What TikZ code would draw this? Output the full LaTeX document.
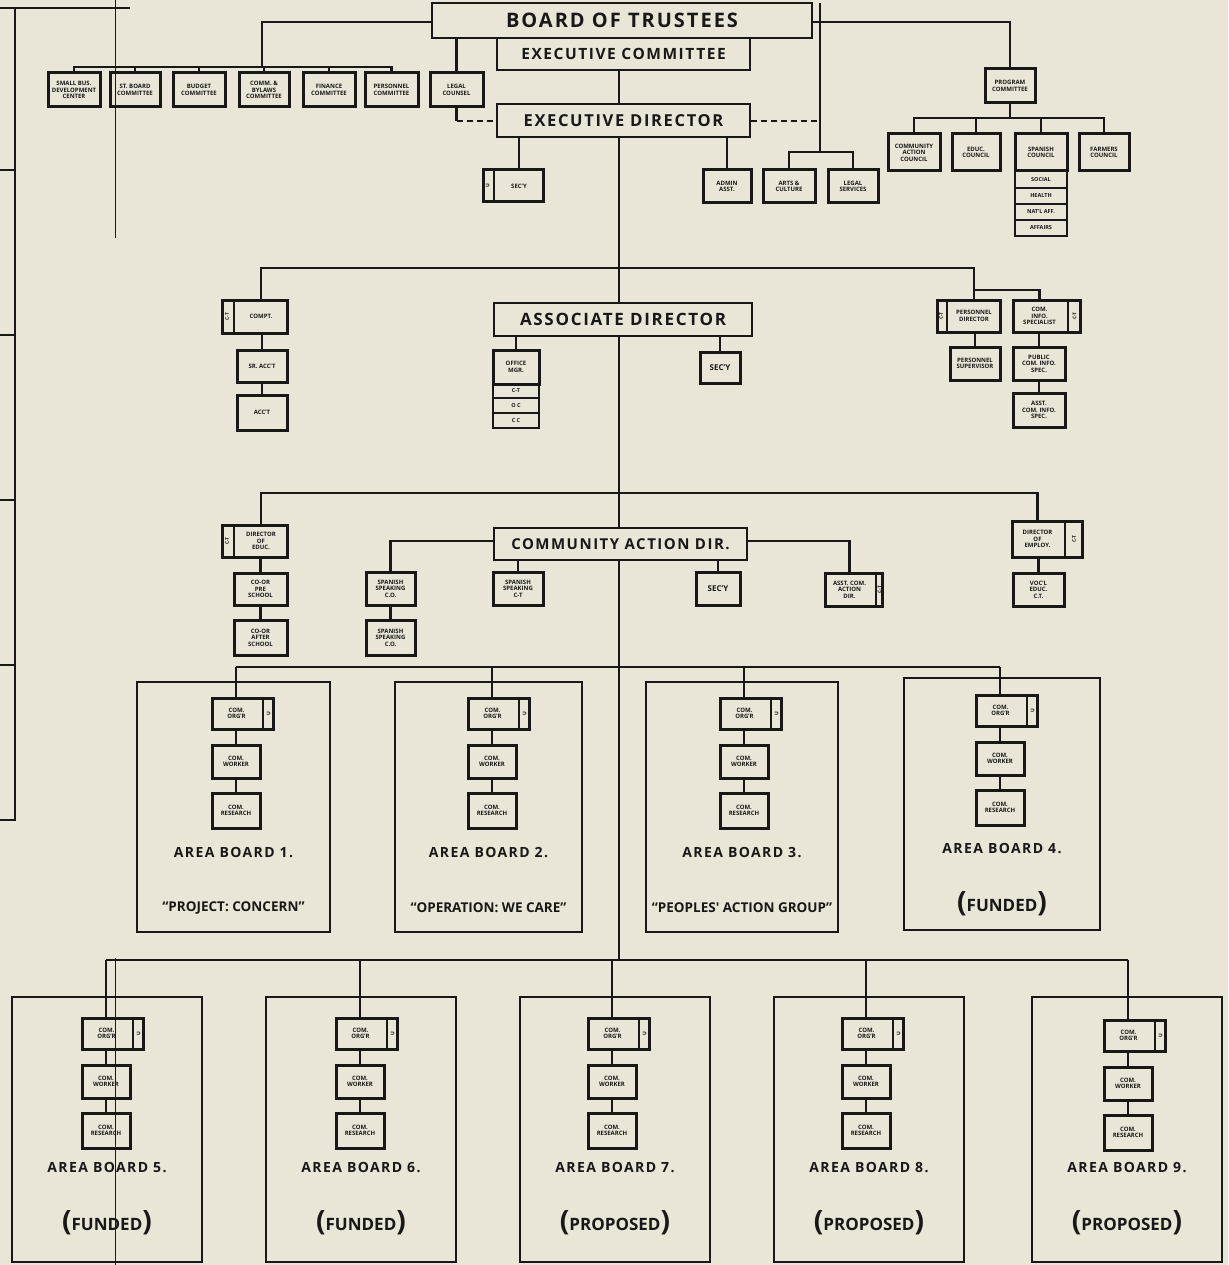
\documentclass[tikz,border=0pt]{standalone}
\usepackage{fontspec}
\setmainfont{Open Sans}
\newfontfamily\hand[LetterSpace=10]{Open Sans}
\newfontfamily\handn{Open Sans}
\usetikzlibrary{calc}
\definecolor{paper}{RGB}{233,230,215}
\definecolor{ink}{RGB}{26,24,22}
\newcommand\obox[7][]{\node[box,minimum width={((#5)-(#3))*1pt},minimum height={((#6)-(#4))*1pt},#1] (#2) at ({((#3)+(#5))/2},{((#4)+(#6))/2}) {#7};}
\newcommand\lsbox[9][]{\obox[#1]{#2}{#3}{#4}{#5}{#6}{}
  \draw[strip] ([xshift=#7pt]#2.north west) -- ([xshift=#7pt]#2.south west);
  \node[stxt] at ($(#2.west)+(#7/2,0)$) {#8};
  \node[btxt] at ($(#2.center)+(#7/2,0)$) {#9};}
\newcommand\rsbox[9][]{\obox[#1]{#2}{#3}{#4}{#5}{#6}{}
  \draw[strip] ([xshift=-#7pt]#2.north east) -- ([xshift=-#7pt]#2.south east);
  \node[stxt] at ($(#2.east)+(-#7/2,0)$) {#8};
  \node[btxt] at ($(#2.center)+(-#7/2,0)$) {#9};}
\newcommand\pw[1]{{\fontsize{28}{28}\selectfont(}{\fontsize{17}{20}\selectfont #1}{\fontsize{28}{28}\selectfont)}}
\newcommand\areab[9]{%
 \node[area,minimum width={((#3)-(#2))*1pt},minimum height={((#5)-(#4))*1pt}] (ab#1) at ({((#2)+(#3))/2},{((#4)+(#5))/2}) {};
 \coordinate (v#1) at (#6,#4);
 \rsbox{org#1}{(#6)-24}{#7}{(#6)+37}{(#7)+31}{12}{U}{COM.\\ORG'R}
 \obox{wk#1}{(#6)-24}{(#7)+47}{(#6)+24}{(#7)+80}{COM.\\WORKER}
 \obox{rs#1}{(#6)-24}{(#7)+95}{(#6)+24}{(#7)+130}{COM.\\RESEARCH}
 \draw[ln] (org#1.south -| v#1) -- (wk#1.north -| v#1);
 \draw[ln] (wk#1.south -| v#1) -- (rs#1.north -| v#1);
 \node[ttl] (at#1) at ({((#2)+(#3))/2},{(#4)+171}) {#8};
 \node[sttl] (as#1) at ({((#2)+(#3))/2},{(#4)+226}) {#9};
}
\begin{document}
\begin{tikzpicture}[x=1pt,y=-1pt,
 box/.style={draw=ink,line width=3pt,inner sep=0.5pt,align=center,text=ink,font=\bfseries\fontsize{6}{6.6}\selectfont},
 big/.style={box,line width=2.6pt,font=\hand\bfseries\fontsize{17}{18}\selectfont},
 rowb/.style={box,line width=2.4pt,font=\bfseries\fontsize{5.5}{6}\selectfont},
 ln/.style={draw=ink,line width=2.8pt},
 dsh/.style={ln,dash pattern=on 6pt off 4pt},
 strip/.style={draw=ink,line width=2pt},
 stxt/.style={text=ink,font=\bfseries\fontsize{5}{5}\selectfont,rotate=90,inner sep=0},
 btxt/.style={text=ink,font=\bfseries\fontsize{6}{6.6}\selectfont,align=center,inner sep=0},
 area/.style={draw=ink,line width=2.4pt,inner sep=0},
 ttl/.style={text=ink,font=\hand\bfseries\fontsize{14}{15}\selectfont,inner sep=0},
 sttl/.style={text=ink,font=\handn\bfseries\fontsize{13.5}{15}\selectfont,inner sep=0},
 lframe/.style={draw=ink,line width=2.2pt},
 hair/.style={draw=ink,line width=0.8pt}]
\fill[paper] (0,0) rectangle (1228,1265);
\useasboundingbox (0,0) rectangle (1228,1265);

% left frame and scan lines
\draw[lframe] (0,8) -- (130,8);
\draw[lframe] (15,8) -- (15,820) -- (0,820);
\foreach \yy in {170,335,500,665} \draw[lframe] (0,\yy) -- (15,\yy);
\draw[hair] (115,0) -- (115,238);
\draw[hair] (115,958) -- (115,1265);

% top
\obox[big,font=\hand\bfseries\fontsize{20}{22}\selectfont]{bot}{432}{3}{812}{38}{BOARD OF TRUSTEES}
\obox[big,font=\hand\bfseries\fontsize{15.5}{17}\selectfont]{exc}{497}{38}{750}{70}{EXECUTIVE COMMITTEE}
\obox[big,font=\hand\bfseries\fontsize{16.5}{18}\selectfont]{ed}{497}{104}{750}{137}{EXECUTIVE DIRECTOR}

\obox{c1}{48}{73}{100}{107}{SMALL BUS.\\DEVELOPMENT\\CENTER}
\obox{c2}{110}{73}{160}{107}{ST. BOARD\\COMMITTEE}
\obox{c3}{173}{73}{225}{107}{BUDGET\\COMMITTEE}
\obox{c4}{239}{73}{289}{107}{COMM. \&\\BYLAWS\\COMMITTEE}
\obox{c5}{303}{73}{355}{107}{FINANCE\\COMMITTEE}
\obox{c6}{365}{73}{418}{107}{PERSONNEL\\COMMITTEE}
\obox{lc}{430}{73}{483}{107}{LEGAL\\COUNSEL}

\lsbox{s1}{483}{170}{543}{202}{12}{U}{SEC'Y}
\obox{aa}{703}{170}{751}{203}{ADMIN\\ASST.}
\obox{ac}{763}{170}{815}{203}{ARTS \&\\CULTURE}
\obox{ls}{828}{170}{878}{203}{LEGAL\\SERVICES}

\obox{pc}{985}{69}{1035}{103}{PROGRAM\\COMMITTEE}
\obox{p1}{888}{134}{940}{171}{COMMUNITY\\ACTION\\COUNCIL}
\obox{p2}{952}{134}{1000}{171}{EDUC.\\COUNCIL}
\obox{p3}{1015}{134}{1067}{171}{SPANISH\\COUNCIL}
\obox[rowb]{p3a}{1015}{171}{1067}{188}{SOCIAL}
\obox[rowb]{p3b}{1015}{188}{1067}{204}{HEALTH}
\obox[rowb]{p3c}{1015}{204}{1067}{220}{NAT'L AFF.}
\obox[rowb]{p3d}{1015}{220}{1067}{236}{AFFAIRS}
\obox{p4}{1079}{134}{1129}{171}{FARMERS\\COUNCIL}

% top connectors
\coordinate (tk) at (619,0);
\coordinate (jl) at (262,22);
\coordinate (jr) at (1010,22);
\coordinate (bA) at (262,67);
\draw[ln] (bot.west |- jl) -- (jl) -- (bA);
\draw[ln] (c1.north) -- (c1.north |- bA) -- (c6.north |- bA) -- (c6.north);
\foreach \n in {c2,c3,c4,c5} \draw[ln] (\n.north) -- (\n.north |- bA);
\draw[ln] (lc.north) -- (lc.north |- bot.south);
\coordinate (dl) at (456,121);
\draw[ln] (lc.south) -- (lc.south |- dl);
\draw[dsh] (lc.south |- dl) -- (ed.west |- dl);
\coordinate (vr) at (820,3);
\coordinate (br) at (820,152);
\draw[dsh] (ed.east |- dl) -- (vr |- dl);
\draw[ln] (vr) -- (br);
\draw[ln] (ac.north) -- (ac.north |- br) -- (ls.north |- br) -- (ls.north);
\draw[ln] (bot.east |- jr) -- (jr) -- (pc.north);
\draw[ln] (tk |- exc.south) -- (tk |- ed.north);
\coordinate (bP) at (1010,118);
\draw[ln] (pc.south) -- (bP);
\draw[ln] (p1.north) -- (p1.north |- bP) -- (p4.north |- bP) -- (p4.north);
\foreach \n in {p2,p3} \draw[ln] (\n.north) -- (\n.north |- bP);
\draw[ln] ([xshift=6pt]s1.north) -- ([xshift=6pt]s1.north |- ed.south);
\draw[ln] (aa.north) -- (aa.north |- ed.south);

% associate director level
\lsbox{cp}{222}{300}{287}{333}{13}{C-T}{COMPT.}
\obox{sa}{237}{350}{287}{382}{SR. ACC'T}
\obox{act}{237}{395}{287}{430}{ACC'T}
\obox[big]{ad}{494}{303}{752}{336}{ASSOCIATE DIRECTOR}
\obox{om}{493}{350}{539}{384}{OFFICE\\MGR.}
\obox[rowb]{om1}{493}{384}{539}{398}{C-T}
\obox[rowb]{om2}{493}{398}{539}{413}{O C}
\obox[rowb]{om3}{493}{413}{539}{428}{C C}
\obox[font=\bfseries\fontsize{8}{9}\selectfont]{sc2}{700}{352}{740}{383}{SEC'Y}
\lsbox{pd}{937}{300}{1000}{332}{11}{C-T}{PERSONNEL\\DIRECTOR}
\obox{ps}{950}{347}{1000}{380}{PERSONNEL\\SUPERVISOR}
\rsbox{ci}{1013}{300}{1080}{332}{14}{C-T}{COM.\\INFO.\\SPECIALIST}
\obox{pci}{1013}{347}{1065}{380}{PUBLIC\\COM. INFO.\\SPEC.}
\obox{aci}{1013}{393}{1065}{427}{ASST.\\COM. INFO.\\SPEC.}

\draw[ln] (tk |- ed.south) -- (tk |- ad.north);
\coordinate (b2) at (619,268);
\draw[ln] ([xshift=6.5pt]cp.north) |- (b2) -| ([xshift=5.5pt]pd.north);
\coordinate (b3) at (975,290);
\draw[ln] (b3) -| ([xshift=-7pt]ci.north);
\draw[ln] (ps.north) -- (ps.north |- pd.south);
\draw[ln] (pci.north) -- (pci.north |- ci.south);
\draw[ln] (aci.north) -- (pci.south);
\draw[ln] (sa.north) -- (sa.north |- cp.south);
\draw[ln] (act.north) -- (sa.south);
\draw[ln] (om.north) -- (om.north |- ad.south);
\draw[ln] (sc2.north) -- (sc2.north |- ad.south);

% community action level
\lsbox{de}{222}{525}{287}{557}{13}{C-T}{DIRECTOR\\OF\\EDUC.}
\obox{pre}{234}{573}{287}{605}{CO-OR\\PRE\\SCHOOL}
\obox{aft}{234}{620}{287}{655}{CO-OR\\AFTER\\SCHOOL}
\obox[big,font=\hand\bfseries\fontsize{15}{16}\selectfont]{cad}{494}{528}{747}{560}{COMMUNITY ACTION DIR.}
\obox{ss1}{366}{572}{415}{605}{SPANISH\\SPEAKING\\C.O.}
\obox{ss2}{366}{620}{415}{655}{SPANISH\\SPEAKING\\C.O.}
\obox{ssct}{493}{572}{543}{605}{SPANISH\\SPEAKING\\C-T}
\obox[font=\bfseries\fontsize{8}{9}\selectfont]{sc3}{696}{572}{740}{605}{SEC'Y}
\rsbox{acad}{825}{573}{882}{606}{8}{C-T}{ASST. COM.\\ACTION\\DIR.}
\rsbox{demp}{1012}{521}{1082}{557}{19}{C-T}{DIRECTOR\\OF\\EMPLOY.}
\obox{voc}{1013}{573}{1064}{606}{VOC'L\\EDUC.\\C.T.}

\draw[ln] (tk |- ad.south) -- (tk |- cad.north);
\coordinate (b4) at (619,493);
\draw[ln] ([xshift=6.5pt]de.north) |- (b4) -| ([xshift=-9.5pt]demp.north);
\draw[ln] (voc.north) -- (voc.north |- demp.south);
\draw[ln] (pre.north) -- (pre.north |- de.south);
\draw[ln] (aft.north) -- (pre.south);
\coordinate (cl) at (390,541);
\draw[ln] (cad.west |- cl) -| (ss1.north);
\draw[ln] (ss2.north) -- (ss1.south);
\draw[ln] (ssct.north) -- (ssct.north |- cad.south);
\draw[ln] (sc3.north) -- (sc3.north |- cad.south);
\draw[ln] (cad.east |- cl) -| ([xshift=-4pt]acad.north);

% area boards
\coordinate (b5) at (619,667);
\coordinate (b6) at (619,960);
\draw[ln] (tk |- cad.south) -- (b6);
\areab{1}{137}{330}{682}{932}{236}{698}{AREA BOARD 1.}{“PROJECT: CONCERN”}
\areab{2}{395}{582}{682}{932}{492}{698}{AREA BOARD 2.}{“OPERATION: WE CARE”}
\areab{3}{646}{838}{682}{932}{744}{698}{AREA BOARD 3.}{“PEOPLES' ACTION GROUP”}
\areab{4}{904}{1100}{678}{930}{1000}{695}{AREA BOARD 4.}{\pw{FUNDED}}
\areab{5}{12}{202}{997}{1262}{106}{1018}{AREA BOARD 5.}{\pw{FUNDED}}
\areab{6}{266}{456}{997}{1262}{360}{1018}{AREA BOARD 6.}{\pw{FUNDED}}
\areab{7}{520}{710}{997}{1262}{612}{1018}{AREA BOARD 7.}{\pw{PROPOSED}}
\areab{8}{774}{964}{997}{1262}{866}{1018}{AREA BOARD 8.}{\pw{PROPOSED}}
\areab{9}{1032}{1222}{997}{1262}{1128}{1020}{AREA BOARD 9.}{\pw{PROPOSED}}
\draw[ln] (v1 |- b5) -- (v4 |- b5);
\foreach \i in {1,...,4} \draw[ln] (v\i |- b5) -- (org\i.north -| v\i);
\draw[ln] (v5 |- b6) -- (v9 |- b6);
\foreach \i in {5,...,9} \draw[ln] (v\i |- b6) -- (org\i.north -| v\i);
\end{tikzpicture}
\end{document}
